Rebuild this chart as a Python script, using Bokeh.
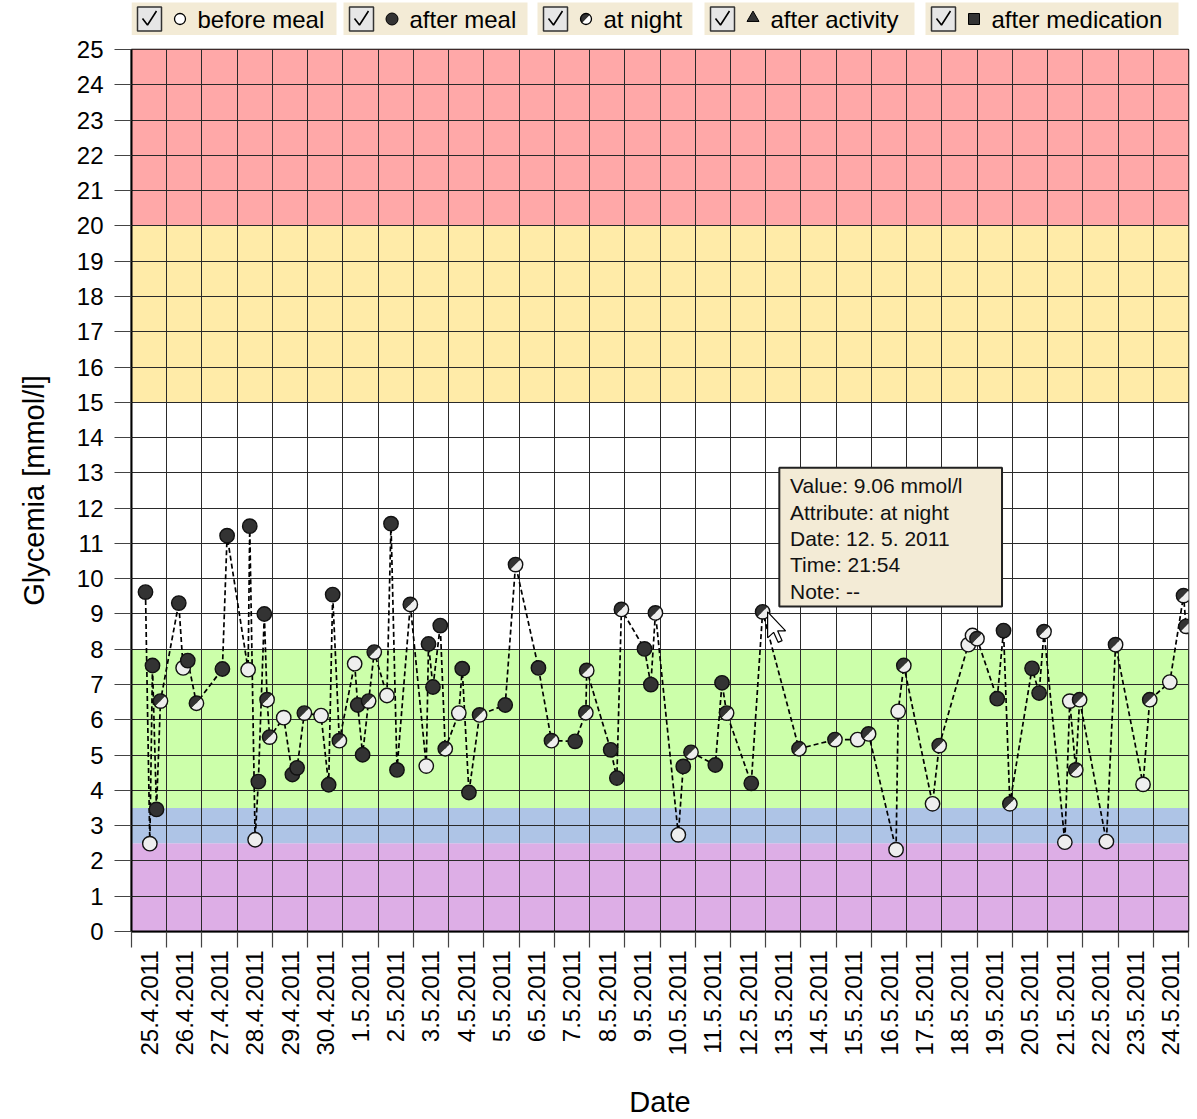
import math
from datetime import datetime
from bokeh.plotting import figure
from bokeh.models import FixedTicker, Range1d, ColumnDataSource
from bokeh.layouts import column
from bokeh.core.properties import value
from bokeh.embed import file_html
from bokeh.resources import INLINE

# ---------------- data ----------------
timestamps = [
    "2011-04-25 09:32", "2011-04-25 12:29", "2011-04-25 14:18", "2011-04-25 17:01", "2011-04-25 19:44",
    "2011-04-26 08:12", "2011-04-26 11:10", "2011-04-26 14:20", "2011-04-26 20:14",
    "2011-04-27 13:55", "2011-04-27 17:07",
    "2011-04-28 07:26", "2011-04-28 08:33", "2011-04-28 12:12", "2011-04-28 14:24", "2011-04-28 18:29",
    "2011-04-28 20:21", "2011-04-28 22:05",
    "2011-04-29 07:41", "2011-04-29 13:35", "2011-04-29 16:48", "2011-04-29 21:45",
    "2011-04-30 09:07", "2011-04-30 14:18", "2011-04-30 17:02", "2011-04-30 21:36",
    "2011-05-01 08:01", "2011-05-01 10:05", "2011-05-01 13:26", "2011-05-01 17:31", "2011-05-01 21:22",
    "2011-05-02 06:00", "2011-05-02 08:46", "2011-05-02 12:50", "2011-05-02 21:55",
    "2011-05-03 08:47", "2011-05-03 10:19", "2011-05-03 13:21", "2011-05-03 18:19", "2011-05-03 21:43",
    "2011-05-04 06:58", "2011-05-04 09:17", "2011-05-04 13:51", "2011-05-04 21:07",
    "2011-05-05 14:34", "2011-05-05 21:36",
    "2011-05-06 13:12", "2011-05-06 22:05",
    "2011-05-07 14:10", "2011-05-07 21:29", "2011-05-07 22:05",
    "2011-05-08 14:24", "2011-05-08 18:36", "2011-05-08 21:43",
    "2011-05-09 13:26", "2011-05-09 17:46", "2011-05-09 20:53",
    "2011-05-10 12:29", "2011-05-10 15:50", "2011-05-10 21:07",
    "2011-05-11 13:41", "2011-05-11 18:14", "2011-05-11 21:22",
    "2011-05-12 14:10", "2011-05-12 21:54",
    "2011-05-13 22:41",
    "2011-05-14 23:11",
    "2011-05-15 14:38", "2011-05-15 22:05",
    "2011-05-16 16:48", "2011-05-16 18:14", "2011-05-16 22:05",
    "2011-05-17 17:38", "2011-05-17 22:12",
    "2011-05-18 18:00", "2011-05-18 20:53", "2011-05-18 23:56",
    "2011-05-19 13:41", "2011-05-19 18:00", "2011-05-19 22:19",
    "2011-05-20 13:26", "2011-05-20 18:14", "2011-05-20 21:36",
    "2011-05-21 11:46", "2011-05-21 15:07", "2011-05-21 19:12", "2011-05-21 21:50",
    "2011-05-22 16:05", "2011-05-22 22:19",
    "2011-05-23 17:02", "2011-05-23 21:36",
    "2011-05-24 11:17", "2011-05-24 20:38", "2011-05-24 22:19",
]

glycemia = [
    9.62, 2.49, 7.54, 3.46, 6.53,
    9.31, 7.47, 7.68, 6.47,
    7.44, 11.22,
    7.42, 11.49, 2.60, 4.25, 9.00, 6.57, 5.51,
    6.06, 4.45, 4.64, 6.19,
    6.12, 4.16, 9.55, 5.41,
    7.59, 6.42, 5.01, 6.53, 7.92,
    6.69, 11.56, 4.58, 9.27,
    4.69, 8.15, 6.93, 8.67, 5.18,
    6.19, 7.45, 3.94, 6.14,
    6.42, 10.40,
    7.47, 5.41,
    5.39, 6.20, 7.40,
    5.15, 4.35, 9.13,
    8.01, 7.00, 9.03,
    2.74, 4.68, 5.08,
    4.72, 7.05, 6.19,
    4.20, 9.06,
    5.18,
    5.44,
    5.44, 5.60,
    2.32, 6.24, 7.54,
    3.62, 5.27,
    8.13, 8.39, 8.30,
    6.60, 8.53, 3.62,
    7.46, 6.76, 8.50,
    2.53, 6.53, 4.58, 6.57,
    2.55, 8.13,
    4.17, 6.57,
    7.07, 9.52, 8.65,
]

attribute = [
    "after meal", "before meal", "after meal", "after meal", "at night",
    "after meal", "before meal", "after meal", "at night",
    "after meal", "after meal",
    "before meal", "after meal", "before meal", "after meal", "after meal", "at night", "at night",
    "before meal", "after meal", "after meal", "at night",
    "before meal", "after meal", "after meal", "at night",
    "before meal", "after meal", "after meal", "at night", "at night",
    "before meal", "after meal", "after meal", "at night",
    "before meal", "after meal", "after meal", "after meal", "at night",
    "before meal", "after meal", "after meal", "at night",
    "after meal", "at night",
    "after meal", "at night",
    "after meal", "at night", "at night",
    "after meal", "after meal", "at night",
    "after meal", "after meal", "at night",
    "before meal", "after meal", "at night",
    "after meal", "after meal", "at night",
    "after meal", "at night",
    "at night",
    "at night",
    "before meal", "at night",
    "before meal", "before meal", "at night",
    "before meal", "at night",
    "before meal", "before meal", "at night",
    "after meal", "after meal", "at night",
    "after meal", "after meal", "at night",
    "before meal", "before meal", "at night", "at night",
    "before meal", "at night",
    "before meal", "at night",
    "before meal", "at night", "at night",
]

notes = ["--"] * len(glycemia)

date_labels = [
    "25.4.2011", "26.4.2011", "27.4.2011", "28.4.2011", "29.4.2011", "30.4.2011",
    "1.5.2011", "2.5.2011", "3.5.2011", "4.5.2011", "5.5.2011", "6.5.2011",
    "7.5.2011", "8.5.2011", "9.5.2011", "10.5.2011", "11.5.2011", "12.5.2011",
    "13.5.2011", "14.5.2011", "15.5.2011", "16.5.2011", "17.5.2011", "18.5.2011",
    "19.5.2011", "20.5.2011", "21.5.2011", "22.5.2011", "23.5.2011", "24.5.2011",
]
y_ticks = [0, 1, 2, 3, 4, 5, 6, 7, 8, 9, 10, 11, 12, 13, 14, 15, 16, 17, 18, 19, 20, 21, 22, 23, 24, 25]

band_bottom = [0, 2.5, 3.5, 8, 15, 20]
band_top = [2.5, 3.5, 8, 15, 20, 25]
band_color = ["#DDAEE6", "#AEC4E6", "#CCFFAA", "#FFFFFF", "#FFEBA8", "#FFA8A8"]

legend_labels = ["before meal", "after meal", "at night", "after activity", "after medication"]
hovered = "2011-05-12 21:54"

# ---------------- styling constants ----------------
FONT = "Liberation Sans"
FRAME_W, FRAME_H = 1057, 882
LEFT, RIGHT = 131, 9
DARK = "#333333"
LIGHT = "#EEEEEE"
BEIGE = "#F3EBD6"

start = datetime(2011, 4, 25)
times = [datetime.strptime(t, "%Y-%m-%d %H:%M") for t in timestamps]
xs = [(t - start).total_seconds() / 86400.0 for t in times]
n_days = len(date_labels)

# ---------------- main figure ----------------
p = figure(frame_width=FRAME_W, frame_height=FRAME_H,
           x_range=Range1d(0, n_days), y_range=Range1d(y_ticks[0], y_ticks[-1]),
           output_backend="svg", toolbar_location=None,
           min_border_left=LEFT, min_border_right=RIGHT, min_border_top=14, min_border_bottom=0,
           background_fill_color="white", border_fill_color="white")
p.outline_line_color = "black"
p.outline_line_width = 1.5

bands = p.quad(left=0, right=n_days, bottom=band_bottom, top=band_top,
               fill_color=band_color, line_color=None)
bands.level = "image"

# axes
xt = FixedTicker(ticks=[i + 0.5 for i in range(n_days)], minor_ticks=list(range(n_days + 1)))
p.xaxis.ticker = xt
p.xaxis.major_label_overrides = {i + 0.5: lbl for i, lbl in enumerate(date_labels)}
p.xaxis.major_label_orientation = math.pi / 2
p.xaxis.major_tick_out = 0
p.xaxis.major_tick_in = 0
p.xaxis.minor_tick_out = 16
p.xaxis.minor_tick_in = 0
p.xaxis.minor_tick_line_color = "#444444"
p.xaxis.minor_tick_line_width = 1.2
p.xaxis.major_label_standoff = 3
p.xaxis.axis_label = "Date"
p.xaxis.axis_label_standoff = 28

p.yaxis.ticker = FixedTicker(ticks=y_ticks)
p.yaxis.major_tick_out = 17
p.yaxis.major_tick_in = 0
p.yaxis.minor_tick_line_color = None
p.yaxis.major_tick_line_color = "#444444"
p.yaxis.major_tick_line_width = 1.2
p.yaxis.major_label_standoff = 11
p.yaxis.axis_label = "Glycemia [mmol/l]"
p.yaxis.axis_label_standoff = 24

for ax in (p.xaxis, p.yaxis):
    ax.axis_line_color = "black"
    ax.axis_line_width = 2
    ax.major_label_text_font = FONT
    ax.major_label_text_font_size = "24px"
    ax.major_label_text_color = "black"
    ax.axis_label_text_font = FONT
    ax.axis_label_text_font_size = "29px"
    ax.axis_label_text_font_style = "normal"
    ax.axis_label_text_color = "black"

p.xgrid.ticker = xt
p.xgrid.grid_line_color = None
p.xgrid.minor_grid_line_color = "#2a2a2a"
p.xgrid.minor_grid_line_width = 1
p.ygrid.grid_line_color = "#2a2a2a"
p.ygrid.grid_line_width = 1

# connecting dashed line
p.line(xs, glycemia, line_color="black", line_width=1.7, line_dash="5 3")

src = {k: ColumnDataSource(dict(x=[x for x, a in zip(xs, attribute) if a == k],
                                y=[v for v, a in zip(glycemia, attribute) if a == k]))
       for k in ("before meal", "after meal", "at night")}

R = 7.2  # marker radius in px
p.scatter("x", "y", source=src["before meal"], size=2 * R, marker="circle",
          fill_color=LIGHT, line_color="#111111", line_width=1.4)
p.scatter("x", "y", source=src["after meal"], size=2 * R, marker="circle",
          fill_color=DARK, line_color="#111111", line_width=1.4)
p.wedge("x", "y", source=src["at night"], radius=R, radius_units="screen",
        start_angle=math.pi / 4, end_angle=math.pi * 5 / 4, direction="anticlock",
        fill_color=DARK, line_color=None)
p.wedge("x", "y", source=src["at night"], radius=R, radius_units="screen",
        start_angle=math.pi * 5 / 4, end_angle=math.pi / 4 + 2 * math.pi, direction="anticlock",
        fill_color=LIGHT, line_color=None)
p.scatter("x", "y", source=src["at night"], size=2 * R, marker="circle",
          fill_color=None, line_color="#111111", line_width=1.4)

# tooltip for hovered point
dpx = n_days / FRAME_W
vpx = (y_ticks[-1] - y_ticks[0]) / FRAME_H
hi = timestamps.index(hovered)
hx, hy = xs[hi], glycemia[hi]
p.quad(left=hx + 16.7 * dpx, right=hx + 239.4 * dpx,
       bottom=hy + 5.4 * vpx, top=hy + 144.1 * vpx,
       fill_color=BEIGE, line_color="#222222", line_width=2)
ht = times[hi]
tip_lines = [
    f"Value: {glycemia[hi]:.2f} mmol/l",
    f"Attribute: {attribute[hi]}",
    f"Date: {ht.day}. {ht.month}. {ht.year}",
    f"Time: {ht.hour:02d}:{ht.minute:02d}",
    f"Note: {notes[hi]}",
]
line_off = [126.4, 99.7, 73.7, 47.1, 20.7]
p.text(x=[hx + 27.4 * dpx] * 5, y=[hy + o * vpx for o in line_off], text=tip_lines,
       text_font=value(FONT), text_font_size="21px", text_color="#111111",
       text_baseline="middle", text_align="left")

# mouse cursor
cur = [(0, 0), (0, 26), (6, 20.5), (10.5, 30.5), (14.5, 28.8), (10, 19), (18, 19)]
p.patch([hx + (5 + cx) * dpx for cx, cy in cur], [hy - cy * vpx for cx, cy in cur],
        fill_color="white", line_color="black", line_width=1.2)

# ---------------- legend figure (frame aligned with main frame) ----------------
LH = 35
lg = figure(frame_width=FRAME_W, frame_height=LH,
            x_range=Range1d(LEFT, LEFT + FRAME_W), y_range=Range1d(0, LH),
            output_backend="svg", toolbar_location=None,
            min_border_left=LEFT, min_border_right=RIGHT, min_border_top=0, min_border_bottom=0,
            x_axis_location=None, y_axis_location=None,
            background_fill_color="white", border_fill_color="white")
lg.outline_line_color = None
lg.xgrid.visible = False
lg.ygrid.visible = False

box_left = [131, 343, 537, 704, 925]
box_right = [336, 527, 692, 914, 1178]
cy = 16.5
lg.quad(left=box_left, right=box_right, bottom=0, top=33, fill_color=BEIGE, line_color=None)
lg.quad(left=[b + 6 for b in box_left], right=[b + 30 for b in box_left],
        bottom=cy - 12, top=cy + 12, fill_color="#E6E6E6", line_color="#333333", line_width=1.5)
lg.multi_line(xs=[[b + 11, b + 16, b + 25] for b in box_left],
              ys=[[cy + 0.5, cy - 6, cy + 8] for b in box_left],
              line_color="black", line_width=1.6)
mx = [b + 48.5 for b in box_left]
lg.scatter(x=[mx[0]], y=[cy], size=11, marker="circle", fill_color="white",
           line_color="black", line_width=1.3)
lg.scatter(x=[mx[1]], y=[cy], size=12, marker="circle", fill_color=DARK,
           line_color="black", line_width=1.0)
lg.wedge(x=[mx[2]], y=[cy], radius=5.5, radius_units="screen", start_angle=math.pi / 4,
         end_angle=math.pi * 5 / 4, fill_color=DARK, line_color=None)
lg.wedge(x=[mx[2]], y=[cy], radius=5.5, radius_units="screen", start_angle=math.pi * 5 / 4,
         end_angle=math.pi / 4 + 2 * math.pi, fill_color="white", line_color=None)
lg.scatter(x=[mx[2]], y=[cy], size=11, marker="circle", fill_color=None,
           line_color="black", line_width=1.3)
lg.scatter(x=[mx[3]], y=[cy + 1], size=12, marker="triangle", fill_color=DARK,
           line_color="black", line_width=1.0)
lg.scatter(x=[mx[4]], y=[cy], size=11, marker="square", fill_color=DARK,
           line_color="black", line_width=1.0)
lg.text(x=[b + 66 for b in box_left], y=[cy] * 5, text=legend_labels,
        text_font=value(FONT), text_font_size="24px", text_color="black",
        text_baseline="middle", text_align="left")

layout = column(lg, p)
open("out.html", "w").write(file_html(layout, INLINE))
